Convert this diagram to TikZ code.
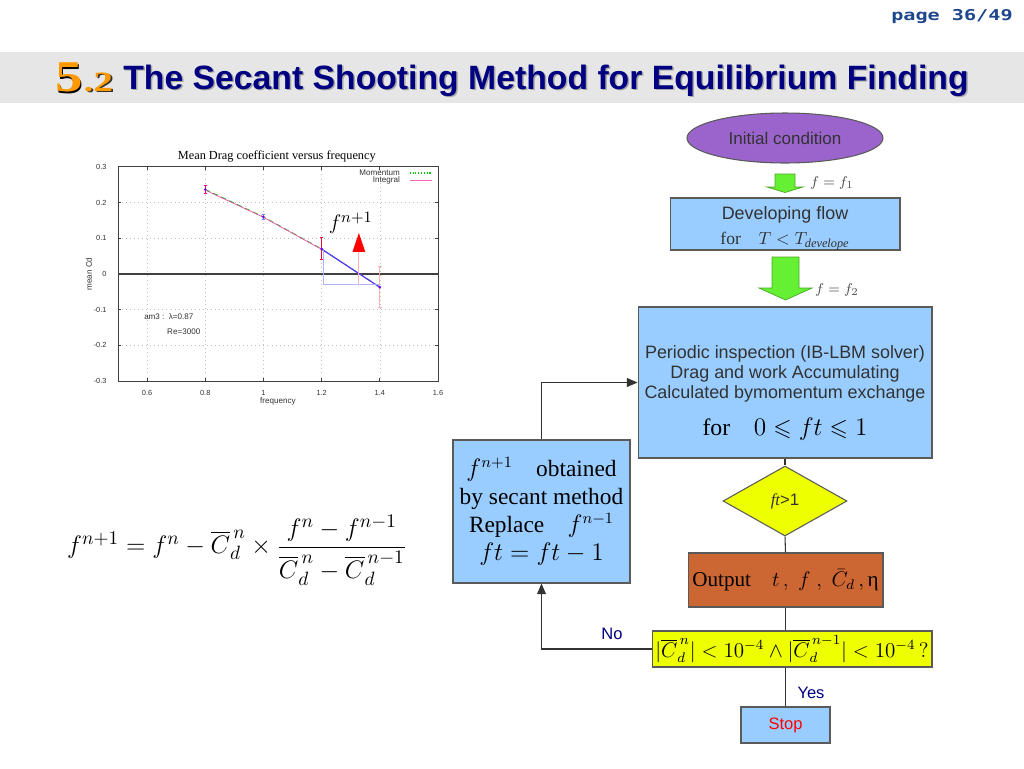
\documentclass[tikz,border=0pt]{standalone}
\usepackage{fontspec}
\setmainfont{Liberation Serif}
\setsansfont{Liberation Sans}
\newfontfamily\pagefont{DejaVu Sans Mono}
\usepackage{amsmath}
\usepackage{amssymb}
\usepackage{xcolor}
\definecolor{sstnavy}{RGB}{0, 0, 128}
\definecolor{sstpage}{RGB}{30, 70, 140}
\definecolor{sstband}{RGB}{230, 230, 230}
\definecolor{sstorange}{RGB}{255, 153, 0}
\definecolor{sstblue}{RGB}{153, 204, 255}
\definecolor{sstpurple}{RGB}{155, 100, 205}
\definecolor{sstyellow}{RGB}{238, 255, 0}
\definecolor{sstrust}{RGB}{204, 102, 51}
\definecolor{sstgreen}{RGB}{102, 240, 51}
\definecolor{sstedge}{RGB}{90, 90, 90}
\definecolor{ssttext}{RGB}{50, 50, 50}
\usetikzlibrary{arrows.meta, positioning, shapes.geometric, calc}

\tikzset{
  flowbox/.style={draw=sstedge, line width=0.6pt, fill=sstblue, inner sep=0pt, align=center},
  flowline/.style={draw=ssttext, line width=0.6pt},
  flowarrow/.style={flowline, ->},
  greenarrow/.style={fill=sstgreen, draw=sstgreen!70!black, line width=0.4pt},
  arialtext/.style={font=\sffamily\fontsize{10.2}{11.4}\selectfont, text=ssttext},
  timestext/.style={font=\rmfamily\fontsize{13.3}{16}\selectfont, text=black},
  plotgrid/.style={draw=black!25, dotted, line width=0.3pt},
  plotaxis/.style={draw=black!75, line width=0.5pt},
  ticklab/.style={font=\sffamily\fontsize{4.2}{5}\selectfont, text=black!80},
  errbar/.style={line width=0.5pt}
}

\begin{document}
\begin{tikzpicture}[x={(0.02cm,0)}, y={(0,-0.02cm)}, >={Triangle[length=6pt,width=5pt]}]
\useasboundingbox (0,0) rectangle (1024,768);
\fill[white] (0,0) rectangle (1024,768);

% === Cabecera ===
\node[anchor=north east, inner sep=0, text=sstpage, font=\pagefont\bfseries\fontsize{8.5}{10}\selectfont] (pagenum) at (1013,9) {\scalebox{1.35}[1]{page 36/49}};
\fill[sstband] (0,52) rectangle (1024,103);

\node[anchor=base west, inner sep=0, text=black, font=\rmfamily\bfseries\fontsize{25}{26}\selectfont] (numshadow) at (56.5,93) {\scalebox{1.25}[1]{5}};
\node[anchor=base west, inner sep=0, text=sstorange, font=\rmfamily\bfseries\fontsize{25}{26}\selectfont] (num) at (55,91) {\scalebox{1.25}[1]{5}};
\node[anchor=base west, inner sep=0, text=black!80, font=\rmfamily\bfseries\fontsize{16}{17}\selectfont] (dotshadow) at (num.base east) [xshift=1pt, yshift=-1pt] {\scalebox{1.4}[1]{.2}};
\node[anchor=base west, inner sep=0, text=sstorange, font=\rmfamily\bfseries\fontsize{16}{17}\selectfont] (numdot) at (num.base east) {\scalebox{1.4}[1]{.2}};
\node[anchor=base west, inner sep=0, text=black!35, font=\sffamily\bfseries\fontsize{19.2}{21}\selectfont] (titleshadow) at (124.5,90.5) {The Secant Shooting Method for Equilibrium Finding};
\node[anchor=base west, inner sep=0, text=sstnavy, font=\sffamily\bfseries\fontsize{19.2}{21}\selectfont] (title) at (123,89) {The Secant Shooting Method for Equilibrium Finding};

% === Curva Cd(f) ===
\begin{scope}[shift={(-27.5,274)}, x={(5.82cm,0)}, y={(0,7.14cm)}]
  \foreach \xv in {0.6,0.8,1.0,1.2,1.4}
    \draw[plotgrid] (\xv,-0.3) -- (\xv,0.3);
  \foreach \yv in {-0.2,-0.1,0.1,0.2}
    \draw[plotgrid] (0.5,\yv) -- (1.6,\yv);
  \draw[plotaxis] (0.5,-0.3) rectangle (1.6,0.3);
  \draw[plotaxis, line width=0.8pt] (0.5,0) -- (1.6,0);

  \foreach \xv/\lab [count=\i] in {0.6/0.6, 0.8/0.8, 1.0/1, 1.2/1.2, 1.4/1.4, 1.6/1.6} {
    \draw[plotaxis] (\xv,-0.3) -- ++(0,0.008) (\xv,0.3) -- ++(0,-0.008);
    \node[ticklab, below=2pt] (xtick\i) at (\xv,-0.3) {\lab};
  }
  \foreach \yv/\lab [count=\i] in {-0.3/-0.3, -0.2/-0.2, -0.1/-0.1, 0/0, 0.1/0.1, 0.2/0.2, 0.3/0.3} {
    \draw[plotaxis] (0.5,\yv) -- ++(0.012,0) (1.6,\yv) -- ++(-0.012,0);
    \node[ticklab, left=3pt] (ytick\i) at (0.5,\yv) {\lab};
  }

  \node[font=\rmfamily\fontsize{7}{8}\selectfont] (plottitle) at (1.046,0.33) {Mean Drag coefficient versus frequency};
  \node[ticklab, font=\sffamily\fontsize{4.6}{5}\selectfont] (xlabel) at (1.05,-0.356) {frequency};
  \node[ticklab, font=\sffamily\fontsize{4.6}{5}\selectfont, rotate=90] (ylabel) at (0.4,0) {mean Cd};

  % leyenda
  \node[ticklab, anchor=east, font=\sffamily\fontsize{4.6}{5}\selectfont] (legmom) at (1.49,0.283) {Momentum};
  \node[ticklab, anchor=east, font=\sffamily\fontsize{4.6}{5}\selectfont] (legint) at (1.49,0.262) {Integral};
  \draw[green!80!black, densely dotted, line width=0.6pt] (1.503,0.283) -- (1.579,0.283);
  \draw[magenta!60, line width=0.5pt] (1.503,0.262) -- (1.579,0.262);

  \node[ticklab, anchor=west, font=\sffamily\fontsize{4.6}{5}\selectfont] (amlab) at (0.569,-0.12) {am3 :\ \ λ=0.87};
  \node[ticklab, anchor=west, font=\sffamily\fontsize{4.6}{5}\selectfont] (relab) at (0.648,-0.162) {Re=3000};

  % barras de error
  \foreach \xv/\lo/\hi/\col in {0.8/0.225/0.249/magenta!80!red, 1.0/0.152/0.168/blue!55, 1.2/0.04/0.103/red!80!magenta, 1.4/-0.095/0.022/red!30} {
    \draw[errbar, \col] (\xv,\lo) -- (\xv,\hi) (\xv-0.006,\lo) -- (\xv+0.006,\lo) (\xv-0.006,\hi) -- (\xv+0.006,\hi);
  }

  % datos
  \draw[green!75!black, densely dashed, line width=0.5pt] (0.8,0.237) -- (1.0,0.160) -- (1.2,0.070) -- (1.4,-0.037);
  \draw[magenta!70, line width=0.4pt] (0.8,0.235) -- (1.0,0.159) -- (1.2,0.069) -- (1.4,-0.038);
  \draw[blue!75, line width=0.6pt] (1.2,0.070) -- (1.4,-0.037);
  \foreach \xv/\yv in {0.8/0.237, 1.0/0.160, 1.2/0.070, 1.4/-0.037}
    \fill[blue!60!magenta] (\xv,\yv) circle (0.8pt);

  % construccion secante
  \draw[blue!30, line width=0.6pt] (1.205,0.068) -- (1.205,-0.03) -- (1.4,-0.03);
  \draw[red!30, line width=0.6pt] (1.328,-0.03) -- (1.328,0.062);
  \fill[red] (1.306,0.062) -- (1.350,0.062) -- (1.328,0.115) -- cycle;
  \node[font=\fontsize{13}{14}\selectfont] (fnext) at (1.30,0.143) {$f^{n+1}$};
\end{scope}

% === Formula de la secante ===
\node[font=\fontsize{15.5}{19}\selectfont] (secanteq) at (237,550)
  {$f^{n+1}=f^{n}-\overline{C}_{d}^{\,n}\times\dfrac{f^{n}-f^{n-1}}{\overline{C}_{d}^{\,n}-\overline{C}_{d}^{\,n-1}}$};

% === Diagrama de flujo ===
\node[ellipse, draw=sstedge, line width=0.6pt, fill=sstpurple, minimum width=3.92cm, minimum height=1cm, inner sep=0pt, arialtext, font=\sffamily\fontsize{9.7}{11}\selectfont] (init) at (785,138) {Initial condition};
\node[flowbox, arialtext, minimum width=4.6cm, minimum height=1.04cm] (develop) at (785,224)
  {\rule{0pt}{12pt}Developing flow\\[3pt]{\rmfamily\fontsize{10}{12}\selectfont for\quad $T<T_{\mathit{develope}}$}};
\node[flowbox, arialtext, minimum width=5.88cm, minimum height=3.02cm] (periodic) at (785,382.5)
  {\rule{0pt}{19pt}Periodic inspection (IB-LBM solver)\\Drag and work Accumulating\\Calculated bymomentum exchange\\[8pt]{\rmfamily\fontsize{13.5}{16}\selectfont\color{black} for\quad $0\leqslant ft\leqslant 1$}};
\node[diamond, draw=sstedge, line width=0.6pt, fill=sstyellow, minimum width=2.48cm, minimum height=1.4cm, inner sep=0pt, arialtext, font=\sffamily\fontsize{9.5}{11}\selectfont] (test) at (785,501)
  {{\rmfamily\itshape ft}>1};
\node[flowbox, fill=sstrust, timestext, font=\rmfamily\fontsize{12}{14}\selectfont, minimum width=3.9cm, minimum height=1.08cm] (output) at (785.5,580)
  {Output\quad $t\,,\;f\;,\;\bar{C}_{d}\,,$\,η};
\node[flowbox, fill=sstyellow, timestext, font=\rmfamily\fontsize{11.6}{13}\selectfont, minimum width=5.6cm, minimum height=0.72cm] (conv) at (792,649)
  {$|\overline{C}_{d}^{\,n}|<10^{-4}\wedge|\overline{C}_{d}^{\,n-1}|<10^{-4}\,?$};
\node[flowbox, minimum width=1.78cm, minimum height=0.72cm, text=red, font=\sffamily\fontsize{9.4}{11}\selectfont] (stop) at (785.5,725) {Stop};
\node[flowbox, timestext, minimum width=3.54cm, minimum height=2.86cm] (secant) at (541.5,511.5)
  {$f^{n+1}$\quad obtained\\by secant method\\Replace\quad $f^{n-1}$\\$ft=ft-1$};

% flechas verdes
\draw[greenarrow] (775,174) -- (795,174) -- (795,187) -- (803,187) -- (785,192.5) -- (767,187) -- (775,187) -- cycle;
\draw[greenarrow] (772,257) -- (799,257) -- (799,288) -- (812,288) -- (785.5,300) -- (759,288) -- (772,288) -- cycle;
\node[text=black!70, font=\fontsize{8.5}{10}\selectfont] (fone) at (832,183) {$f=f_{1}$};
\node[text=black!70, font=\fontsize{8.5}{10}\selectfont] (ftwo) at (837,290) {$f=f_{2}$};

% conectores
\draw[flowline] (periodic.south) -- (test.north);
\draw[flowline] (test.south) -- (output.north);
\draw[flowline] (output.south) -- (output.south |- conv.north);
\draw[flowline] (stop.north |- conv.south) -- (stop.north);
\draw[flowarrow] (conv.west) -| (secant.south);
\draw[flowarrow] (secant.north) |- (periodic.west);

\node[text=sstnavy, font=\sffamily\fontsize{9.4}{11}\selectfont] (nolab) at (612,634) {No};
\node[text=sstnavy, font=\sffamily\fontsize{9.4}{11}\selectfont] (yeslab) at (811,693) {Yes};

\end{tikzpicture}
\end{document}
